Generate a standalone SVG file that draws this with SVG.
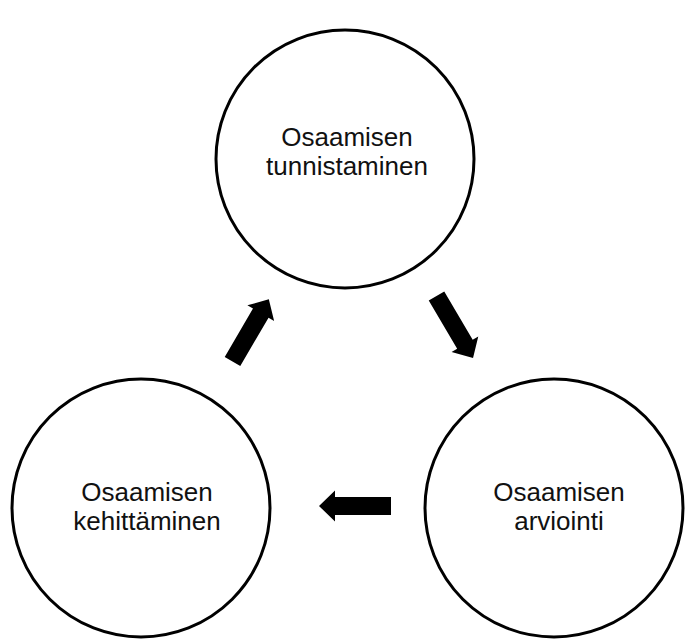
<svg xmlns="http://www.w3.org/2000/svg" width="688" height="640" viewBox="0 0 688 640">
<defs>
<style>
.node circle{fill:#fff;stroke:#000;stroke-width:3}
.node text{font-family:"Liberation Sans",Arial,sans-serif;font-size:26px;fill:#111;text-anchor:middle}
.arrow{fill:#000}
</style>
<path id="blk" d="M0,-9 L56,-9 L56,-15.5 L72,0 L56,15.5 L56,9 L0,9 Z"/>
</defs>
<rect width="688" height="640" fill="#fff"/>
<g id="n-tunnistaminen" class="node">
<circle cx="345" cy="159" r="129"/>
<text x="347" y="146">Osaamisen</text>
<text x="347" y="175">tunnistaminen</text>
</g>
<g id="n-arviointi" class="node">
<circle cx="554" cy="508" r="129"/>
<text x="559" y="501">Osaamisen</text>
<text x="559" y="530">arviointi</text>
</g>
<g id="n-kehittaminen" class="node">
<circle cx="141" cy="508" r="129"/>
<text x="147" y="501">Osaamisen</text>
<text x="147" y="530">kehittäminen</text>
</g>
<g id="connectors">
<use href="#blk" class="arrow" transform="translate(436.5,296) rotate(59.5)"/>
<use href="#blk" class="arrow" transform="translate(391,506) rotate(180)"/>
<use href="#blk" class="arrow" transform="translate(232.5,361.5) rotate(-59.7)"/>
</g>
</svg>
